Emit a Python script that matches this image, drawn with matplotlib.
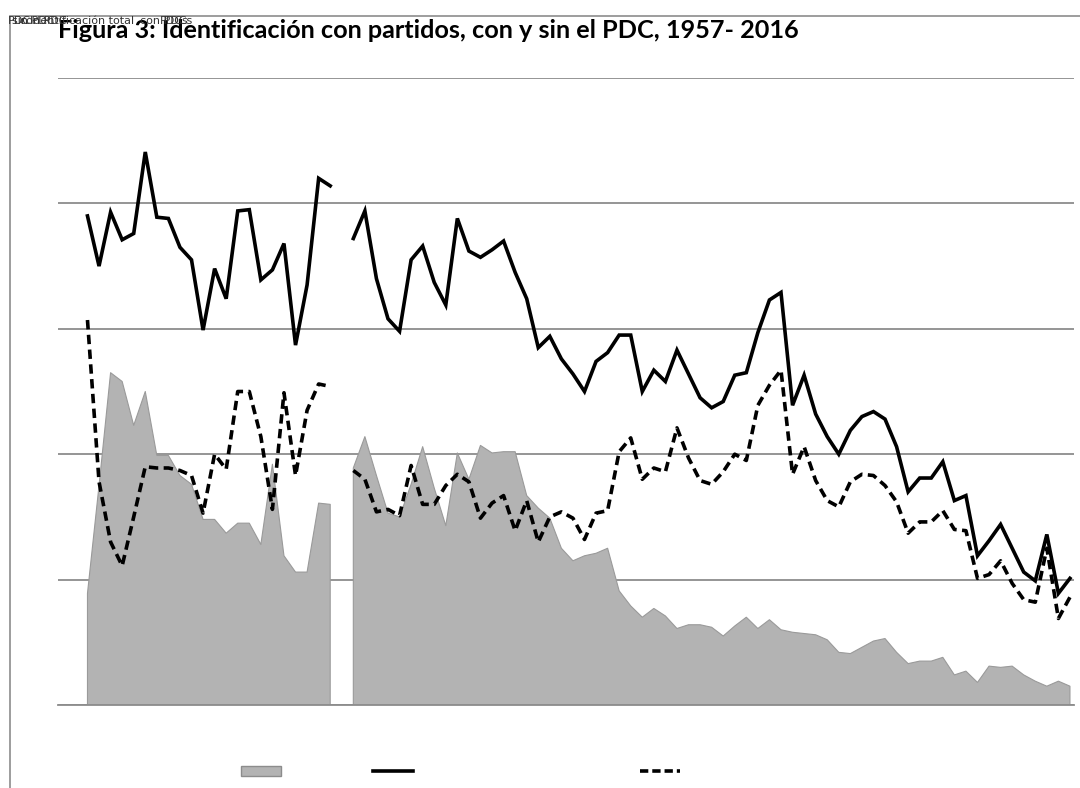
import numpy as np
import matplotlib.pyplot as plt
from matplotlib.patches import Patch, Rectangle
from matplotlib.lines import Line2D

nan = np.nan

# identificación total (linea continua)
total = [39.0, 35.0, 39.3, 37.1, 37.6, 44.1, 38.9, 38.8, 36.5, 35.5,
         29.9, 34.8, 32.4, 39.4, 39.5, 33.9, 34.7, 36.8, 28.7, 33.5,
         42.0, 41.4, nan, 37.2, 39.4, 34.0, 30.8, 29.8, 35.5, 36.6,
         33.7, 31.9, 38.8, 36.2, 35.7, 36.3, 37.0, 34.5, 32.4, 28.5,
         29.4, 27.6, 26.4, 25.0, 27.4, 28.1, 29.5, 29.5, 25.0, 26.7,
         25.8, 28.3, 26.4, 24.5, 23.7, 24.2, 26.3, 26.5, 29.7, 32.3,
         32.9, 23.9, 26.3, 23.2, 21.4, 20.0, 21.9, 23.0, 23.4, 22.8,
         20.6, 17.0, 18.1, 18.1, 19.4, 16.3, 16.7, 11.9, 13.1, 14.4,
         12.5, 10.6, 9.9, 13.6, 8.9, 10.1]

# sin el PDC (linea discontinua)
sin_pdc = [30.7, 17.8, 13.0, 11.1, 15.0, 19.0, 18.9, 18.9, 18.7, 18.3,
           15.3, 20.0, 18.8, 25.0, 25.0, 21.4, 15.6, 24.9, 18.3, 23.5,
           25.6, 25.4, nan, 18.7, 18.0, 15.4, 15.6, 15.1, 19.1, 16.0,
           16.0, 17.5, 18.4, 17.8, 14.9, 16.1, 16.7, 13.9, 16.3, 13.0,
           15.0, 15.4, 14.9, 13.2, 15.3, 15.5, 20.2, 21.3, 18.0, 18.9,
           18.6, 22.1, 19.7, 17.9, 17.6, 18.6, 20.0, 19.5, 23.9, 25.5,
           26.7, 18.4, 20.6, 17.9, 16.3, 15.8, 17.8, 18.4, 18.3, 17.5,
           16.2, 13.7, 14.6, 14.6, 15.5, 14.0, 13.9, 10.1, 10.4, 11.5,
           9.7, 8.4, 8.2, 12.5, 6.9, 8.6]

# PDC (area gris)
pdc = [8.9, 17.5, 26.5, 25.8, 22.3, 25.0, 19.9, 19.9, 18.3, 17.6,
       14.8, 14.8, 13.7, 14.5, 14.5, 12.8, 19.2, 11.9, 10.6, 10.6,
       16.1, 16.0, nan, 18.9, 21.4, 18.3, 15.3, 15.0, 17.6, 20.6,
       17.3, 14.3, 20.1, 18.0, 20.7, 20.1, 20.2, 20.2, 16.7, 15.7,
       14.9, 12.5, 11.5, 11.9, 12.1, 12.5, 9.1, 7.9, 7.0, 7.7,
       7.1, 6.1, 6.4, 6.4, 6.2, 5.5, 6.3, 7.0, 6.1, 6.8,
       6.0, 5.8, 5.7, 5.6, 5.2, 4.2, 4.1, 4.6, 5.1, 5.3,
       4.2, 3.3, 3.5, 3.5, 3.8, 2.4, 2.7, 1.8, 3.1, 3.0,
       3.1, 2.4, 1.9, 1.5, 1.9, 1.5]

x = np.arange(len(total))

fig = plt.figure(figsize=(10.8, 7.88), dpi=100)
ax = fig.add_axes([58 / 1080, 1 - 705 / 788, (1074 - 58) / 1080, (705 - 78) / 788])

ax.fill_between(x, 0, np.array(pdc), facecolor='#b3b3b3', edgecolor='#9a9a9a', lw=0.8)
ax.plot(x, total, color='black', lw=2.6, solid_joinstyle='miter')
ax.plot(x, sin_pdc, color='black', lw=2.6, dashes=(2.6, 1.5))

ax.set_ylim(0, 50)
ax.set_xlim(-2.55, 85.35)
ax.set_yticks(np.arange(0, 51, 10))
ax.yaxis.grid(True, color='#8c8c8c', lw=1.3)
ax.set_axisbelow(True)
ax.tick_params(left=False, bottom=False, labelleft=False, labelbottom=False)
for s in ['left', 'right', 'top']:
    ax.spines[s].set_visible(False)
ax.spines['bottom'].set_color('#8c8c8c')
ax.spines['bottom'].set_linewidth(1.3)

# marco
fig.patches.append(Rectangle((10 / 1080, -0.1), 1.2, 1.1 - 16 / 788,
                             transform=fig.transFigure, fill=False,
                             edgecolor='#8c8c8c', lw=1.2))

fig.text(58 / 1080, 1 - 38 / 788,
         'Figura 3: Identificación con partidos, con y sin el PDC, 1957- 2016',
         fontsize=18.2, fontweight='bold', family='Lato', va='baseline')

# nombres de series superpuestos arriba a la izquierda
for dx, s in [(8, 'PDC'), (12, 'sin PDC'), (20, 'con PDC'), (30, 'Identificación total'),
              (140, 'con PDCs'), (160, 'PDCs')]:
    fig.text(dx / 1080, 1 - 24 / 788, s, fontsize=8, color='#333333', va='baseline')

handles = [Patch(facecolor='#b3b3b3', edgecolor='#8c8c8c', lw=1.0),
           Line2D([], [], color='black', lw=2.6),
           Line2D([], [], color='black', lw=2.6, dashes=(2.3, 1.1))]
for h, cx in zip(handles, [261, 393, 660]):
    fig.legend([h], [''], loc='center', bbox_to_anchor=(cx / 1080, 1 - 772 / 788),
               frameon=False, handlelength=2.9, handleheight=0.7, handletextpad=0)

fig.savefig('out.png', dpi=100)
